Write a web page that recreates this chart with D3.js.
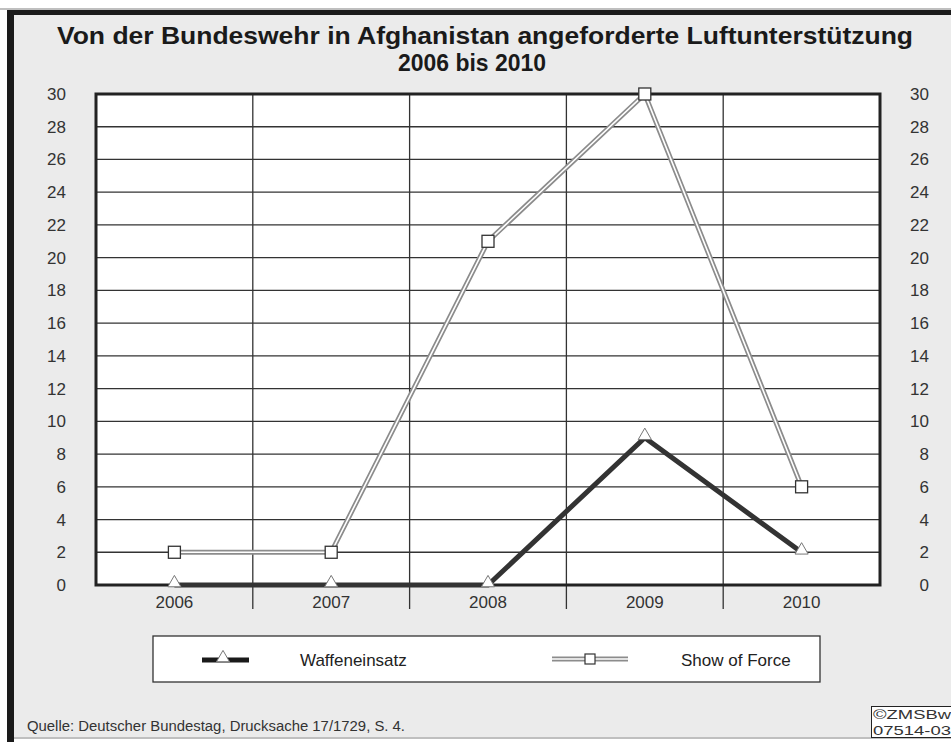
<!DOCTYPE html>
<html>
<head>
<meta charset="utf-8">
<script src="https://cdn.jsdelivr.net/npm/d3@7"></script>
<style>
  body { margin: 0; background: #fff; }
  text { font-family: "Liberation Sans", Arial, sans-serif; }
</style>
</head>
<body>
<div id="chart"></div>
<script>
const years = ["2006", "2007", "2008", "2009", "2010"];
const waffeneinsatz = [0, 0, 0, 9, 2];
const showOfForce = [2, 2, 21, 30, 6];
const yTicks = d3.range(0, 31, 2);
const titleLines = ["Von der Bundeswehr in Afghanistan angeforderte Luftunterstützung", "2006 bis 2010"];
const legendLabels = ["Waffeneinsatz", "Show of Force"];
const sourceText = "Quelle: Deutscher Bundestag, Drucksache 17/1729, S. 4.";

const width = 951;
const height = 742;
const margin = { top: 94, right: 71, bottom: 157, left: 96 };

const svg = d3.select("#chart").append("svg")
  .attr("width", width)
  .attr("height", height);

// Hintergrund + Rahmen
svg.append("rect").attr("x", 0).attr("y", 0).attr("width", width).attr("height", height).attr("fill", "#fff");
svg.append("rect").attr("x", 10).attr("y", 12).attr("width", width).attr("height", 725).attr("fill", "#ebebeb");
svg.append("line").attr("x1", 0).attr("x2", width).attr("y1", 9).attr("y2", 9).attr("stroke", "#aaa").attr("stroke-width", 1.5);
svg.append("line").attr("x1", 10.5).attr("x2", 10.5).attr("y1", 10).attr("y2", 742).attr("stroke", "#1a1a1a").attr("stroke-width", 7);
svg.append("line").attr("x1", 7).attr("x2", width).attr("y1", 12.5).attr("y2", 12.5).attr("stroke", "#1a1a1a").attr("stroke-width", 5);
svg.append("line").attr("x1", 14).attr("x2", width).attr("y1", 738).attr("y2", 738).attr("stroke", "#aaa").attr("stroke-width", 1.5);

// Titel (schmale Schrift nachgebildet über textLength)
const titleLen = [856, 148];
const titleX = [485, 472];
svg.selectAll("text.title")
  .data(titleLines)
  .enter().append("text")
  .attr("class", "title")
  .attr("x", (d, i) => titleX[i])
  .attr("y", (d, i) => 44 + i * 27)
  .attr("text-anchor", "middle")
  .attr("textLength", (d, i) => titleLen[i])
  .attr("lengthAdjust", "spacingAndGlyphs")
  .style("font-size", "24px")
  .style("font-weight", "bold")
  .attr("fill", "#1a1a1a")
  .text(d => d);

const x = d3.scaleBand()
  .domain(years)
  .range([margin.left, width - margin.right]);
const y = d3.scaleLinear()
  .domain([0, 30])
  .range([height - margin.bottom, margin.top]);

// Plotfläche
svg.append("rect")
  .attr("x", margin.left)
  .attr("y", margin.top)
  .attr("width", width - margin.left - margin.right)
  .attr("height", height - margin.top - margin.bottom)
  .attr("fill", "#fff");

// horizontale Gitterlinien
svg.selectAll("line.hgrid")
  .data(yTicks)
  .enter().append("line")
  .attr("class", "hgrid")
  .attr("x1", margin.left).attr("x2", width - margin.right)
  .attr("y1", d => y(d)).attr("y2", d => y(d))
  .attr("stroke", "#333").attr("stroke-width", 1.3);

// vertikale Trennlinien (mit Ticks unter der Achse)
svg.selectAll("line.vgrid")
  .data(years.slice(1))
  .enter().append("line")
  .attr("class", "vgrid")
  .attr("x1", d => x(d)).attr("x2", d => x(d))
  .attr("y1", margin.top).attr("y2", height - margin.bottom + 24)
  .attr("stroke", "#333").attr("stroke-width", 1.3);

svg.append("rect")
  .attr("x", margin.left)
  .attr("y", margin.top)
  .attr("width", width - margin.left - margin.right)
  .attr("height", height - margin.top - margin.bottom)
  .attr("fill", "none")
  .attr("stroke", "#222")
  .attr("stroke-width", 3);

// Achsenbeschriftungen
const yLabels = (xPos) => svg.append("g")
  .selectAll("text")
  .data(yTicks)
  .enter().append("text")
  .attr("x", xPos)
  .attr("y", d => y(d) + 6)
  .attr("text-anchor", "end")
  .style("font-size", "17px")
  .attr("fill", "#333")
  .text(d => d);
yLabels(66);
yLabels(929);

svg.selectAll("text.xlab")
  .data(years)
  .enter().append("text")
  .attr("class", "xlab")
  .attr("x", d => x(d) + x.bandwidth() / 2)
  .attr("y", height - margin.bottom + 23)
  .attr("text-anchor", "middle")
  .style("font-size", "17px")
  .attr("fill", "#333")
  .text(d => d);

const cx = (d, i) => x(years[i]) + x.bandwidth() / 2;
const line = d3.line().x(cx).y(d => y(d));

// Show of Force: Doppellinie
svg.append("path").datum(showOfForce)
  .attr("d", line).attr("fill", "none")
  .attr("stroke", "#8c8c8c").attr("stroke-width", 5);
svg.append("path").datum(showOfForce)
  .attr("d", line).attr("fill", "none")
  .attr("stroke", "#fff").attr("stroke-width", 1.6);

// Waffeneinsatz
svg.append("path").datum(waffeneinsatz)
  .attr("d", line).attr("fill", "none")
  .attr("stroke", "#333").attr("stroke-width", 5)
  .attr("stroke-linejoin", "miter");

const tri = d3.symbol().type(d3.symbolTriangle).size(75);

svg.selectAll("path.tri")
  .data(waffeneinsatz)
  .enter().append("path")
  .attr("class", "tri")
  .attr("transform", (d, i) => `translate(${cx(d, i)},${y(d) - 2})`)
  .attr("d", tri)
  .attr("fill", "#fff").attr("stroke", "#777").attr("stroke-width", 1);

svg.selectAll("rect.sq")
  .data(showOfForce)
  .enter().append("rect")
  .attr("class", "sq")
  .attr("x", (d, i) => cx(d, i) - 6)
  .attr("y", d => y(d) - 6)
  .attr("width", 12).attr("height", 12)
  .attr("fill", "#fff").attr("stroke", "#333").attr("stroke-width", 1.3);

// Legende
const lg = svg.append("g");
lg.append("rect")
  .attr("x", 153).attr("y", 636).attr("width", 667).attr("height", 46)
  .attr("fill", "#fff").attr("stroke", "#333").attr("stroke-width", 1.3);

lg.append("line").attr("x1", 202).attr("x2", 249).attr("y1", 660).attr("y2", 660)
  .attr("stroke", "#1a1a1a").attr("stroke-width", 5);
lg.append("path").attr("transform", "translate(223,658)").attr("d", tri)
  .attr("fill", "#fff").attr("stroke", "#777").attr("stroke-width", 1);
lg.append("text").attr("x", 300).attr("y", 666)
  .style("font-size", "17px").attr("fill", "#222").text(legendLabels[0]);

lg.append("line").attr("x1", 552).attr("x2", 628).attr("y1", 659).attr("y2", 659)
  .attr("stroke", "#8c8c8c").attr("stroke-width", 5);
lg.append("line").attr("x1", 552).attr("x2", 628).attr("y1", 659).attr("y2", 659)
  .attr("stroke", "#fff").attr("stroke-width", 1.6);
lg.append("rect").attr("x", 585).attr("y", 654).attr("width", 10).attr("height", 10)
  .attr("fill", "#fff").attr("stroke", "#333").attr("stroke-width", 1.2);
lg.append("text").attr("x", 681).attr("y", 666)
  .style("font-size", "17px").attr("fill", "#222").text(legendLabels[1]);

// Quelle
svg.append("text").attr("x", 27).attr("y", 731)
  .attr("textLength", 378).attr("lengthAdjust", "spacingAndGlyphs")
  .style("font-size", "14px").attr("fill", "#333").text(sourceText);

// Copyright-Kasten
svg.append("rect").attr("x", 871.5).attr("y", 706.5).attr("width", 90).attr("height", 31)
  .attr("fill", "#fff").attr("stroke", "#222").attr("stroke-width", 1);
svg.append("text").attr("x", 873).attr("y", 719)
  .attr("textLength", 78).attr("lengthAdjust", "spacingAndGlyphs")
  .style("font-size", "13.5px").attr("fill", "#333").text("©ZMSBw");
svg.append("text").attr("x", 873).attr("y", 735)
  .attr("textLength", 78).attr("lengthAdjust", "spacingAndGlyphs")
  .style("font-size", "13.5px").attr("fill", "#333").text("07514-03");
</script>
</body>
</html>
